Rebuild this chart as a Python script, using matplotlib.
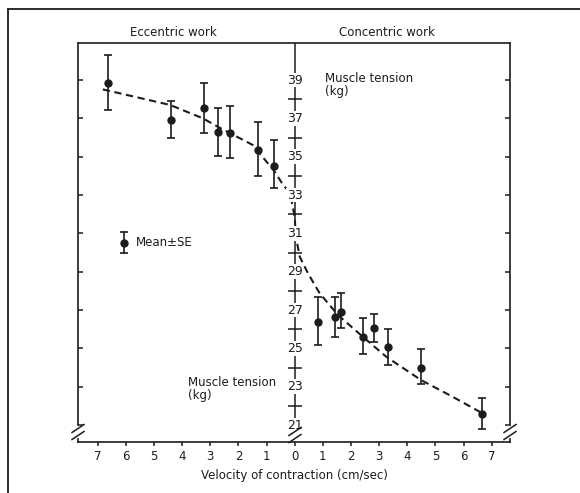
import numpy as np
import matplotlib
matplotlib.use('Agg')
from matplotlib import pyplot as plt
from matplotlib.lines import Line2D

# eccentric work (plotted left of 0, velocity shown as positive)
ecc_velocity = [6.64, 4.40, 3.22, 2.71, 2.29, 1.30, 0.73]
ecc_tension = [38.83, 36.91, 37.52, 36.27, 36.22, 35.35, 34.53]
ecc_upper = [40.30, 37.92, 38.83, 37.52, 37.64, 36.82, 35.87]
ecc_lower = [37.44, 35.96, 36.22, 35.04, 34.92, 33.99, 33.38]

# concentric work
con_velocity = [0.83, 1.44, 1.66, 2.42, 2.81, 3.31, 4.49, 6.66]
con_tension = [26.36, 26.62, 26.91, 25.61, 26.05, 25.09, 23.99, 21.58]
con_upper = [27.66, 27.66, 27.87, 26.57, 26.79, 26.00, 24.97, 22.43]
con_lower = [25.18, 25.58, 26.05, 24.70, 25.35, 24.13, 23.14, 20.79]

# hand-drawn dashed curve (signed velocity: eccentric negative)
curve_x = [-6.82, -4.43, -3.26, -2.73, -1.49, -0.71, -0.41, -0.25, -0.12, 0.0,
           0.04, 0.18, 0.47, 0.89, 1.54, 2.42, 3.25, 4.49, 5.61, 6.68]
curve_y = [38.51, 37.70, 37.00, 36.56, 35.61, 34.22, 33.52, 33.26, 32.74, 31.87,
           30.83, 29.78, 28.92, 27.87, 26.74, 25.61, 24.57, 23.35, 22.48, 21.61]

tension_labels = list(range(21, 40, 2))
tension_crosses = list(range(22, 39, 2))
velocity_ticks = list(range(-7, 8))

INK = '#1c1c1c'
W, H = 580, 493

fig = plt.figure(figsize=(W / 100, H / 100), dpi=100)
ax = fig.add_axes([78 / W, 1 - 442 / H, (510 - 78) / W, (442 - 43) / H])


def fx(px):
    return px / W


def fy(py):
    return 1 - py / H


# outer frame of the scanned page
fig.add_artist(Line2D([fx(8), fx(8)], [fy(9), 0], color=INK, lw=1.3))
fig.add_artist(Line2D([fx(8), 1], [fy(9), fy(9)], color=INK, lw=1.3))

ecc_x = -np.array(ecc_velocity)
ecc_y = np.array(ecc_tension)
con_x = np.array(con_velocity)
con_y = np.array(con_tension)

err_style = dict(fmt='o', color=INK, ms=5, elinewidth=1.2, capsize=2.8, capthick=1.2, zorder=3)
ax.errorbar(ecc_x, ecc_y, yerr=[ecc_y - np.array(ecc_lower), np.array(ecc_upper) - ecc_y],
            **err_style)
ax.errorbar(con_x, con_y, yerr=[con_y - np.array(con_lower), np.array(con_upper) - con_y],
            **err_style)
ax.plot(curve_x, curve_y, color=INK, lw=1.5, ls=(0, (3.5, 2.2)), zorder=2)

# central tension axis
ax.axvline(0, color=INK, lw=1.1, zorder=1)
ax.plot(np.zeros(len(tension_crosses)), tension_crosses, ls='none', marker='_',
        ms=10, mew=1.1, color=INK, zorder=1)
for v in tension_labels:
    ax.text(0, v, str(v), ha='center', va='center', fontsize=9, color=INK, zorder=2,
            bbox=dict(facecolor='white', edgecolor='none', pad=0.6))

ax.set_xlim(-7.7, 7.65)
ax.set_ylim(20.12, 40.93)
ax.set_xticks(velocity_ticks)
ax.set_xticklabels([str(abs(v)) for v in velocity_ticks], fontsize=8.5, color=INK)
ax.set_yticks(tension_labels)
ax.tick_params(axis='x', direction='out', length=3, width=1.1, color=INK, pad=3)
ax.tick_params(axis='y', direction='in', length=3.5, width=1.1, color=INK,
               left=True, right=True, labelleft=False)
for s in ax.spines.values():
    s.set_linewidth(1.2)
    s.set_color(INK)

ax.set_xlabel('Velocity of contraction (cm/sec)', fontsize=8.5, color=INK, labelpad=4)

fig.text(fx(173), fy(33), 'Eccentric work', ha='center', va='center', fontsize=8.5, color=INK)
fig.text(fx(387), fy(33), 'Concentric work', ha='center', va='center', fontsize=8.5, color=INK)
fig.text(fx(325), fy(72), 'Muscle tension\n(kg)', ha='left', va='top', fontsize=8.5,
         color=INK, linespacing=1.0)
fig.text(fx(188), fy(376), 'Muscle tension\n(kg)', ha='left', va='top', fontsize=8.5,
         color=INK, linespacing=1.0)

# key: mean +- SE symbol
ax.plot([0.1065, 0.1065], [0.474, 0.526], transform=ax.transAxes, color=INK, lw=1.2,
        marker='_', ms=5.6, mew=1.2)
ax.plot([0.1065], [0.499], transform=ax.transAxes, color=INK, marker='o', ms=5, ls='none')
ax.text(0.135, 0.499, 'Mean\u00b1SE', transform=ax.transAxes, ha='left', va='center',
        fontsize=8.5, color=INK)


def axis_break(px, py, vertical=True):
    # white gap in the line, then the two slashes
    if vertical:
        fig.add_artist(Line2D([fx(px), fx(px)], [fy(py - 4), fy(py + 4)], color='white', lw=3))
    for off in (-3.5, 3.5):
        fig.add_artist(Line2D([fx(px - 6), fx(px + 6)], [fy(py + off + 4), fy(py + off - 4)],
                              color=INK, lw=1.1))


axis_break(78, 432)
axis_break(510, 432)
axis_break(295, 435)

fig.savefig('out.png', dpi=100)
